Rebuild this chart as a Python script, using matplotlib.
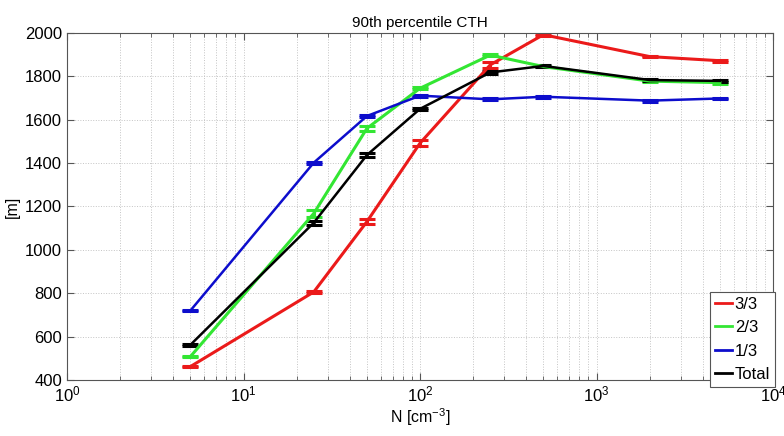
import matplotlib
matplotlib.use("Agg")
import matplotlib.pyplot as plt
from matplotlib.lines import Line2D
from matplotlib.ticker import LogLocator, NullFormatter, FixedLocator

plt.rcParams['font.family'] = ['Liberation Sans', 'DejaVu Sans']
plt.rcParams['mathtext.default'] = 'regular'

N = [5, 25, 50, 100, 250, 500, 2000, 5000]
cth_33 = [462, 806, 1130, 1492, 1853, 1992, 1891, 1872]
err_33 = [4, 4, 13, 13, 15, 4, 4, 4]
cth_23 = [508, 1168, 1560, 1745, 1898, 1845, 1778, 1771]
err_23 = [4, 15, 10, 5, 5, 4, 4, 4]
cth_13 = [720, 1402, 1617, 1711, 1694, 1706, 1688, 1698]
err_13 = [4, 5, 4, 4, 4, 4, 4, 4]
cth_tot = [562, 1125, 1437, 1650, 1818, 1848, 1783, 1779]
err_tot = [4, 10, 10, 5, 5, 4, 4, 4]

labels = ['3/3', '2/3', '1/3', 'Total']
colors = [(0.92, 0.1, 0.1), (0.2, 0.9, 0.2), (0.05, 0.05, 0.8), 'black']
widths = [2.2, 2.2, 1.8, 1.8]

fig = plt.figure(figsize=(7.84, 4.36), dpi=100)
ax = fig.add_axes([0.0855, 0.1284, 0.9005, 0.796])

series = [(cth_33, err_33), (cth_23, err_23), (cth_13, err_13), (cth_tot, err_tot)]
handles = []
for (y, e), lab, c, lw in zip(series, labels, colors, widths):
    ax.errorbar(N, y, yerr=e, color=c, lw=lw, capsize=6, capthick=2.2,
                elinewidth=lw)
    handles.append(Line2D([], [], color=c, lw=2, label=lab))

ax.set_xscale('log')
ax.set_xlim(1, 1e4)
ax.set_ylim(400, 2000)
ax.yaxis.set_major_locator(FixedLocator(list(range(400, 2001, 200))))
ax.xaxis.set_minor_locator(LogLocator(base=10, subs=range(2, 10)))
ax.xaxis.set_minor_formatter(NullFormatter())

ax.grid(True, which='major', color='#c4c4c4', linestyle=':', linewidth=0.7)
ax.grid(True, which='minor', axis='x', color='#c4c4c4', linestyle=':', linewidth=0.7)
ax.set_axisbelow(True)

ax.tick_params(direction='in', which='both', top=True, right=True, labelsize=12,
               color='#555555')
ax.tick_params(which='major', length=5)
ax.tick_params(which='minor', length=3)
for s in ax.spines.values():
    s.set_color('#555555')
    s.set_linewidth(0.8)

ax.set_title('90th percentile CTH', fontsize=11, pad=4)
ax.set_xlabel('N [cm$^{-3}$]', fontsize=11.5, labelpad=1)
ax.set_ylabel('[m]', fontsize=11.5, labelpad=4)

leg = ax.legend(handles=handles, loc='lower right', bbox_to_anchor=(1.003, -0.02),
                fontsize=12, handlelength=1.05, handletextpad=0.15, borderpad=0.3,
                labelspacing=0.5, fancybox=False, framealpha=1,
                edgecolor='#555555', borderaxespad=0.0)
leg.get_frame().set_linewidth(0.8)

fig.savefig('out.png', dpi=100)
